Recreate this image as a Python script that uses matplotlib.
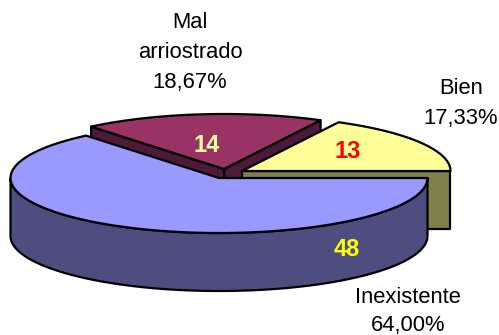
import matplotlib
matplotlib.use('Agg')
import matplotlib.pyplot as plt
import numpy as np

categorias = ['Inexistente', 'Mal\narriostrado', 'Bien']
valores = [48, 14, 13]
porcentajes = ['64,00%', '18,67%', '17,33%']

plt.rcParams['font.family'] = ['Liberation Sans', 'DejaVu Sans']

RX, RY, DEPTH = 208.5, 55, 58


def puntos(cx, cy, a0, a1, n=90):
    t = np.radians(np.linspace(a0, a1, n))
    return cx + RX * np.cos(t), cy - RY * np.sin(t)


def sector(ax, cx, cy, a0, a1, top, side, paredes=(0, -1)):
    # paredes radiales primero, luego el borde y la tapa
    x, y = puntos(cx, cy, a0, a1)
    for i in paredes:
        ax.fill([cx, x[i], x[i], cx], [cy, y[i], y[i] + DEPTH, cy + DEPTH],
                facecolor=side, edgecolor='black', lw=1.6, joinstyle='round')
    # solo la parte frontal del borde se ve (de 180 a 360 grados)
    lo, hi = max(a0, 180), min(a1, 360)
    if lo < hi:
        xb, yb = puntos(cx, cy, lo, hi)
        ax.fill(np.r_[xb, xb[::-1]], np.r_[yb, yb[::-1] + DEPTH],
                facecolor=side, edgecolor='black', lw=1.6, joinstyle='round')
    ax.fill(np.r_[cx, x], np.r_[cy, y], facecolor=top, edgecolor='black',
            lw=1.6, joinstyle='round')


fig = plt.figure(figsize=(4.99, 3.35), dpi=100)
ax = fig.add_axes([0, 0, 1, 1])
ax.set_xlim(0, 499)
ax.set_ylim(335, 0)
ax.axis('off')

total = sum(valores)
ang_bien = valores[2] / total * 360
ang_mal = valores[1] / total * 360

# de atras hacia delante
sector(ax, 224, 169, ang_bien, ang_bien + ang_mal, '#993366', '#4d1a3a')
sector(ax, 242, 171, 0, ang_bien, '#ffff99', '#80804d', paredes=(0,))
sector(ax, 219, 178, ang_bien + ang_mal, 360, '#9999ff', '#4d4d80', paredes=())

ax.text(207, 145.5, str(valores[1]), color='#ffff99', fontsize=17, fontweight='bold',
        ha='center', va='center')
ax.text(348, 151.5, str(valores[2]), color='#ff0000', fontsize=17, fontweight='bold',
        ha='center', va='center')
ax.text(347, 249.5, str(valores[0]), color='#ffff00', fontsize=17, fontweight='bold',
        ha='center', va='center')

ax.text(190, 52.5, categorias[1] + '\n' + porcentajes[1], fontsize=15.8, ha='center',
        va='center', linespacing=1.55, color='black')
ax.text(461, 103.5, categorias[2] + '\n' + porcentajes[2], fontsize=15.8, ha='center',
        va='center', linespacing=1.55, color='black')
ax.text(408, 311.5, categorias[0] + '\n' + porcentajes[0], fontsize=15.8, ha='center',
        va='center', linespacing=1.4, color='black')

fig.savefig('out.png', dpi=100, facecolor='white')
